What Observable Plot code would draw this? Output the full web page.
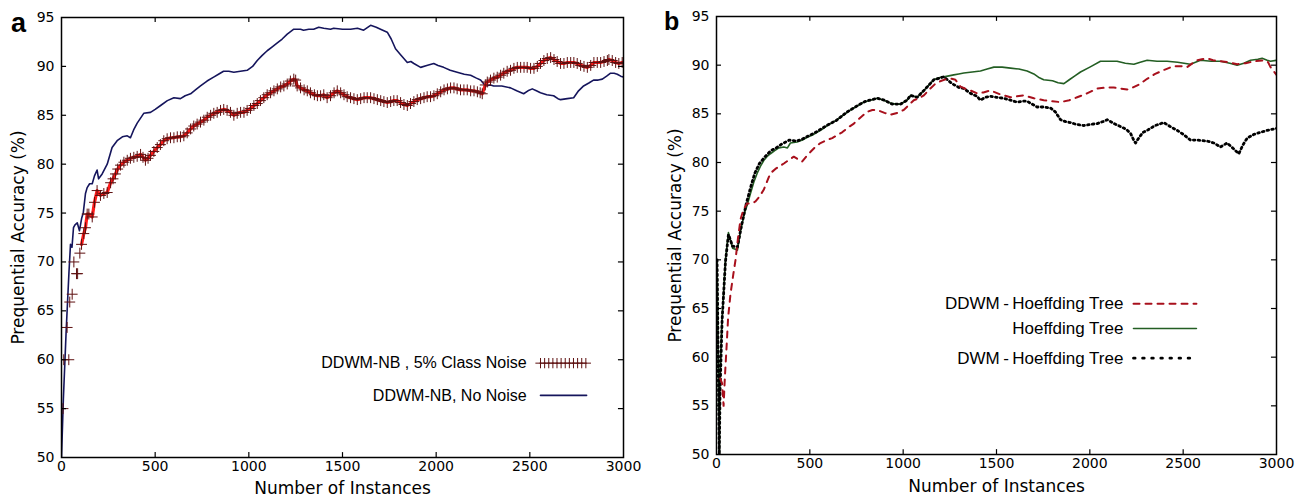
<!DOCTYPE html>
<html>
<head>
<meta charset="utf-8">
<script src="https://cdn.jsdelivr.net/npm/d3@7"></script>
<script src="https://cdn.jsdelivr.net/npm/@observablehq/plot@0.6"></script>
<style>
  html, body { margin: 0; padding: 0; background: white; }
  #wrap { position: relative; width: 1299px; height: 498px; overflow: hidden; }
  .panel { position: absolute; top: 0; }
  .tag { position: absolute; font-family: "Liberation Sans", Arial, sans-serif; font-weight: bold; line-height: 1; }
</style>
</head>
<body>
<div id="wrap">
  <div id="pa" class="panel" style="left:0px"></div>
  <div id="pb" class="panel" style="left:645px"></div>
  <div class="tag" style="left:11px; top:10px; font-size:27px;">a</div>
  <div class="tag" style="left:664px; top:9px; font-size:25px;">b</div>
</div>
<script>
// ---------- DATA ----------
const xTicks = [0, 500, 1000, 1500, 2000, 2500, 3000];
const yTicks = [50, 55, 60, 65, 70, 75, 80, 85, 90, 95];

// Panel a: DDWM-NB, No Noise  [instances, accuracy %]
const aNoNoise = [[0,50],[10,56],[25,63],[40,69],[48,71.8],[56,71.5],[64,73.5],[72,73.8],[84,74],[96,73.2],[108,74.5],[116,75],[128,77],[137,77.6],[150,78],[164,78],[176,78.8],[190,79.4],[198,78.5],[217,79],[244,80],[270,81.7],[297,82.4],[325,82.8],[351,82.9],[368,82.7],[385,83.5],[404,84.2],[439,85.2],[475,85.3],[500,85.6],[529,86],[565,86.5],[600,86.8],[635,86.7],[660,87],[689,87.2],[715,87.6],[742,88],[777,88.5],[812,88.9],[838,89.2],[865,89.5],[893,89.5],[920,89.4],[955,89.5],[991,89.6],[1020,90],[1045,90.6],[1070,91.1],[1098,91.6],[1125,92],[1152,92.4],[1178,92.8],[1205,93.3],[1240,93.8],[1276,93.8],[1292,93.7],[1320,93.8],[1346,93.8],[1373,94],[1400,93.9],[1436,93.8],[1453,93.9],[1500,93.8],[1543,93.8],[1580,93.9],[1613,93.7],[1650,94.2],[1680,94],[1703,93.8],[1739,93.5],[1760,92.8],[1783,91.8],[1810,91.2],[1846,90.4],[1865,90.5],[1881,90.3],[1917,89.9],[1950,90.1],[1987,90.3],[2010,90.1],[2040,89.9],[2075,89.6],[2112,89.4],[2150,89.2],[2184,89.1],[2215,88.8],[2237,88.6],[2264,88],[2290,88.1],[2307,88],[2350,88],[2397,87.8],[2430,87.5],[2467,87.2],[2490,87.5],[2513,87.7],[2535,87.5],[2557,87.3],[2590,87.1],[2627,87],[2650,86.7],[2664,86.6],[2700,86.7],[2734,86.8],[2760,87.5],[2787,88],[2815,88.3],[2840,88.6],[2865,88.6],[2887,88.7],[2910,89],[2931,89.3],[2950,89.3],[2967,89.2],[2985,89],[3000,88.9]];

// Panel a: DDWM-NB, 5% Class Noise
const aNoise = [[8,55],[12,60],[30,63.3],[39,60],[44,65.9],[57,66.7],[66,70],[80,68.8],[86,68.8],[98,70.9],[107,71.8],[119,72.9],[128,73.5],[137,74.9],[146,74.9],[164,74.6],[176,76.1],[190,77.3],[208,76.8],[226,77],[244,77.1],[262,78.1],[275,78.5],[288,79],[300,79.5],[315,79.9],[333,80.2],[351,80.4],[368,80.6],[386,80.7],[404,80.8],[422,81],[435,80.7],[448,80.4],[462,80.6],[475,80.9],[493,81.3],[511,81.7],[528,82],[546,82.4],[564,82.6],[582,82.7],[600,82.7],[618,82.8],[635,82.8],[653,82.9],[671,83.2],[689,83.6],[706,83.9],[724,84.1],[742,84.3],[760,84.5],[778,84.8],[796,85],[813,85.2],[831,85.3],[849,85.5],[866,85.6],[884,85.5],[902,85.3],[920,85],[938,85.2],[956,85.3],[974,85.3],[991,85.5],[1009,85.7],[1027,86],[1045,86.2],[1062,86.5],[1080,86.8],[1098,87.1],[1116,87.3],[1134,87.5],[1152,87.7],[1170,87.9],[1187,88],[1205,88.2],[1222,88.5],[1240,88.7],[1250,88.6],[1258,88],[1276,87.8],[1295,87.6],[1312,87.5],[1329,87.3],[1350,87.1],[1366,87],[1383,87],[1400,87.1],[1418,86.8],[1436,87],[1455,87.3],[1472,87.5],[1490,87.3],[1508,87.1],[1525,86.9],[1543,86.8],[1561,86.7],[1579,86.6],[1597,86.7],[1615,86.8],[1632,86.8],[1650,86.8],[1668,86.7],[1686,86.6],[1704,86.5],[1721,86.4],[1739,86.3],[1757,86.4],[1774,86.5],[1792,86.5],[1810,86.3],[1828,86.1],[1846,86],[1863,86.2],[1881,86.4],[1899,86.6],[1917,86.7],[1935,86.8],[1952,86.9],[1970,86.9],[1988,87],[2006,87.2],[2024,87.4],[2042,87.6],[2060,87.7],[2077,87.8],[2095,87.8],[2112,87.7],[2130,87.6],[2148,87.6],[2166,87.6],[2184,87.5],[2202,87.5],[2220,87.4],[2235,87.3],[2246,87.2],[2262,88.1],[2273,88.4],[2290,88.6],[2308,88.8],[2326,88.9],[2344,89.1],[2361,89.3],[2379,89.5],[2397,89.6],[2415,89.8],[2433,89.9],[2451,89.9],[2469,89.9],[2486,89.9],[2504,89.8],[2522,89.8],[2540,90],[2557,90.3],[2575,90.6],[2593,90.8],[2611,90.9],[2629,90.7],[2646,90.5],[2664,90.3],[2682,90.3],[2700,90.4],[2718,90.4],[2735,90.4],[2753,90.3],[2771,90.1],[2789,90],[2807,89.9],[2825,90.1],[2842,90.4],[2860,90.4],[2878,90.4],[2896,90.5],[2914,90.6],[2922,90.7],[2940,90.6],[2958,90.4],[2975,90.3],[2993,90.4]];

// Panel b: Hoeffding Tree
const bHT = [[3,70],[15,50],[18,57.5],[28,63.3],[48,70],[64,72.8],[86,71.2],[112,71],[129,73],[150,74.8],[164,75.6],[182,76.8],[200,78],[218,78.9],[235,79.6],[253,80.2],[270,80.6],[289,80.9],[310,81.2],[334,81.5],[361,81.6],[380,81.5],[396,82],[432,82.1],[460,82.3],[486,82.6],[512,82.8],[539,83.1],[566,83.4],[593,83.8],[620,84.1],[647,84.4],[682,84.9],[718,85.4],[754,85.8],[789,86.2],[825,86.4],[861,86.6],[896,86.4],[932,86.1],[960,86],[986,86],[1021,86.4],[1039,86.9],[1075,86.7],[1111,87.4],[1140,88],[1164,88.5],[1190,88.7],[1218,88.8],[1245,88.9],[1271,89],[1298,89.1],[1325,89.2],[1370,89.3],[1414,89.4],[1450,89.6],[1486,89.8],[1530,89.8],[1575,89.7],[1620,89.6],[1664,89.4],[1700,89.1],[1730,88.7],[1753,88.5],[1800,88.4],[1830,88.2],[1861,88.1],[1890,88.5],[1920,88.9],[1950,89.3],[2000,89.8],[2057,90.4],[2100,90.4],[2146,90.4],[2190,90.2],[2236,90.1],[2270,90.3],[2307,90.5],[2360,90.4],[2414,90.4],[2470,90.3],[2539,90.1],[2593,90.5],[2650,90.4],[2700,90.4],[2750,90.2],[2789,90],[2825,90.2],[2861,90.5],[2900,90.6],[2923,90.7],[2950,90.5],[2968,90.4],[3000,90.5]];

// Panel b: DWM - Hoeffding Tree
const bDWM = [[3,70],[15,50],[19,56.5],[30,63.8],[48,69.8],[64,72.6],[86,71.4],[112,71.3],[135,73.6],[160,75.8],[185,77.6],[205,78.9],[230,79.9],[260,80.6],[290,81.2],[320,81.5],[350,81.9],[390,82.3],[430,82.2],[460,82.4],[500,82.8],[540,83.2],[590,83.8],[640,84.3],[700,85.2],[760,85.9],[800,86.3],[861,86.6],[900,86.4],[940,86],[986,86],[1021,86.4],[1039,86.9],[1075,86.7],[1111,87.4],[1164,88.5],[1218,88.8],[1262,88.1],[1300,87.7],[1325,87.6],[1361,87.1],[1396,86.8],[1414,86.4],[1440,86.7],[1468,86.8],[1500,86.7],[1539,86.6],[1575,86.4],[1611,86.2],[1640,86.3],[1664,86.3],[1690,86],[1718,85.7],[1750,85.7],[1789,85.6],[1815,85.2],[1843,84.4],[1870,84.2],[1896,84.1],[1930,83.9],[1968,83.8],[2000,83.9],[2039,84],[2070,84.2],[2093,84.4],[2130,84],[2164,83.7],[2195,83.4],[2218,83],[2235,82.3],[2245,82],[2265,82.6],[2285,83.1],[2307,83.3],[2350,83.8],[2396,84.1],[2430,83.7],[2468,83.3],[2500,82.9],[2539,82.3],[2580,82.3],[2629,82.2],[2665,82],[2700,81.6],[2736,82],[2765,81.5],[2798,80.9],[2820,81.8],[2843,82.5],[2880,82.9],[2914,83.1],[2950,83.3],[2975,83.4],[3000,83.5]];

// Panel b: DDWM - Hoeffding Tree
const bDDWM = [[20,57.8],[30,57.3],[38,55],[45,58],[53,60.7],[62,64],[75,66.5],[90,68.5],[102,70],[115,72.2],[129,74.2],[145,75.2],[164,75.8],[190,75.8],[209,76],[230,76.5],[253,77.2],[270,78],[289,78.9],[320,79.4],[361,79.9],[390,80.3],[414,80.6],[440,80.3],[459,80.1],[480,80.6],[504,81.1],[530,81.6],[557,82],[590,82.3],[620,82.5],[645,82.8],[673,83.1],[705,83.6],[736,84],[770,84.6],[807,85.2],[835,85.4],[861,85.4],[900,85.1],[932,84.9],[970,85.1],[1003,85.4],[1030,85.9],[1057,86.4],[1085,86.6],[1111,86.9],[1140,87.5],[1173,88.1],[1205,88.4],[1236,88.6],[1260,88.6],[1280,88.5],[1307,87.8],[1330,87.6],[1361,87.4],[1396,87.1],[1430,87.2],[1468,87.4],[1520,87],[1575,86.7],[1610,86.8],[1646,86.9],[1700,86.6],[1753,86.4],[1800,86.3],[1843,86.2],[1890,86.4],[1932,86.7],[1985,87.1],[2039,87.6],[2085,87.7],[2128,87.7],[2165,87.6],[2200,87.5],[2230,87.7],[2262,88],[2285,88.3],[2307,88.6],[2350,89.1],[2396,89.5],[2450,89.9],[2490,89.9],[2521,89.8],[2550,90.2],[2575,90.5],[2600,90.6],[2629,90.7],[2660,90.5],[2700,90.4],[2745,90.3],[2789,90.1],[2835,90.2],[2879,90.4],[2932,90.5],[2955,90.3],[2968,89.8],[3000,89]];

const legendA = ["DDWM-NB , 5% Class Noise", "DDWM-NB, No Noise"];
const legendB = ["DDWM\u2009-\u2009Hoeffding Tree", "Hoeffding Tree", "DWM\u2009-\u2009Hoeffding Tree"];

// ---------- STYLE ----------
const NAVY = "#15155c", RED = "#ff1a1a", PLUS = "#5e1010";
const GREEN = "#235e23", DRED = "#a8101c";
const FONT = "DejaVu Sans, sans-serif";
const LFONT = "Liberation Sans, Arial, sans-serif";
const fmt = d => String(d);

function frameMarks(yLabelDx, xLabelDy) {
  return [
    Plot.axisX(xTicks, {tickSize: 0, tickPadding: 4, fontSize: 14, fontFamily: FONT, label: null, tickFormat: fmt}),
    Plot.axisY(yTicks, {tickSize: 0, tickPadding: 7, fontSize: 14, fontFamily: FONT, label: null, tickFormat: fmt}),
    Plot.ruleX(xTicks.slice(1, -1), {x: d => d, y1: 50, y2: 50.5, stroke: "black", strokeWidth: 1.2}),
    Plot.ruleX(xTicks.slice(1, -1), {x: d => d, y1: 95, y2: 94.5, stroke: "black", strokeWidth: 1.2}),
    Plot.ruleY(yTicks.slice(1, -1), {y: d => d, x1: 0, x2: 27, stroke: "black", strokeWidth: 1.2}),
    Plot.ruleY(yTicks.slice(1, -1), {y: d => d, x1: 3000, x2: 2973, stroke: "black", strokeWidth: 1.2}),
    Plot.text(["Number of Instances"], {frameAnchor: "bottom", dy: xLabelDy, fontSize: 17, fontFamily: FONT, lineAnchor: "middle", fill: "black"}),
    Plot.text(["Prequential Accuracy (%)"], {frameAnchor: "left", dx: yLabelDx, rotate: -90, fontSize: 17, fontFamily: FONT, textAnchor: "middle", lineAnchor: "middle", fill: "black"})
  ];
}

// ---------- PANEL A ----------
const legAx1 = 2557, legAx2 = 2803;
const chartA = Plot.plot({
  width: 645, height: 498,
  marginLeft: 61, marginRight: 22, marginTop: 17, marginBottom: 41,
  x: {domain: [0, 3000]},
  y: {domain: [50, 95]},
  style: {fontFamily: FONT, fontSize: "14px", color: "black", background: "white", overflow: "visible"},
  marks: [
    Plot.line(aNoNoise, {x: d => d[0], y: d => d[1], stroke: NAVY, strokeWidth: 1.6, clip: true}),
    Plot.line(aNoise.filter(d => d[0] >= 100), {x: d => d[0], y: d => d[1], stroke: RED, strokeWidth: 3.2, clip: true}),
    Plot.dot(aNoise, {x: d => d[0], y: d => d[1], symbol: "plus", r: 3.6, stroke: PLUS, strokeWidth: 1, clip: true}),
    ...frameMarks(-43, 31),
    Plot.frame({stroke: "black", strokeWidth: 1.5}),
    // legend
    Plot.text([legendA[0]], {x: 2483, y: 59.65, text: d => d, textAnchor: "end", fontSize: 16, fontFamily: LFONT, fill: "black"}),
    Plot.text([legendA[1]], {x: 2483, y: 56.35, text: d => d, textAnchor: "end", fontSize: 16, fontFamily: LFONT, fill: "black"}),
    Plot.dot(d3.range(legAx1, legAx2 + 1, 22), {x: d => d, y: 59.65, symbol: "plus", r: 3.4, stroke: PLUS, strokeWidth: 1}),
    Plot.line([legAx1, legAx2], {x: d => d, y: 56.35, stroke: NAVY, strokeWidth: 1.6})
  ]
});
document.getElementById("pa").append(chartA);

// ---------- PANEL B ----------
const legBx1 = 2234, legBx2 = 2571;
const chartB = Plot.plot({
  width: 654, height: 498,
  marginLeft: 71, marginRight: 23, marginTop: 16, marginBottom: 44,
  x: {domain: [0, 3000]},
  y: {domain: [50, 95]},
  style: {fontFamily: FONT, fontSize: "14px", color: "black", background: "white", overflow: "visible"},
  marks: [
    Plot.line(bHT, {x: d => d[0], y: d => d[1], stroke: GREEN, strokeWidth: 1.6, clip: true}),
    Plot.line(bDWM, {x: d => d[0], y: d => d[1], stroke: "black", strokeWidth: 2.8, strokeDasharray: "1.6,3.2", clip: true}),
    Plot.line(bDDWM, {x: d => d[0], y: d => d[1], stroke: DRED, strokeWidth: 2, strokeDasharray: "6,6", clip: true}),
    ...frameMarks(-41, 32),
    Plot.frame({stroke: "black", strokeWidth: 1.5}),
    // legend
    Plot.text([legendB[0]], {x: 2180, y: 65.5, text: d => d, textAnchor: "end", fontSize: 17, fontFamily: LFONT, fill: "black"}),
    Plot.text([legendB[1]], {x: 2180, y: 62.95, text: d => d, textAnchor: "end", fontSize: 17, fontFamily: LFONT, fill: "black"}),
    Plot.text([legendB[2]], {x: 2180, y: 59.9, text: d => d, textAnchor: "end", fontSize: 17, fontFamily: LFONT, fill: "black"}),
    Plot.line([legBx1, legBx2], {x: d => d, y: 65.5, stroke: DRED, strokeWidth: 2, strokeDasharray: "6,6"}),
    Plot.line([legBx1, legBx2], {x: d => d, y: 62.95, stroke: GREEN, strokeWidth: 1.6}),
    Plot.line([legBx1, legBx2], {x: d => d, y: 59.9, stroke: "black", strokeWidth: 2.8, strokeDasharray: "1.6,7.5"})
  ]
});
document.getElementById("pb").append(chartB);
</script>
</body>
</html>
